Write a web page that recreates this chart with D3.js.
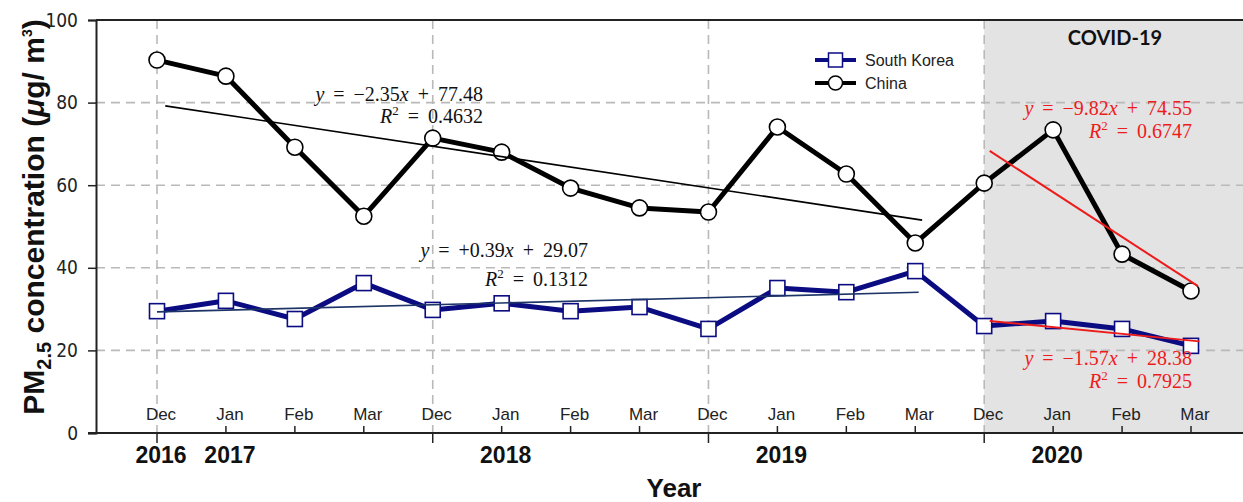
<!DOCTYPE html>
<html>
<head>
<meta charset="utf-8">
<script src="https://cdn.jsdelivr.net/npm/d3@7"></script>
<style>
  body { margin: 0; background: #fff; }
  svg { display: block; }
</style>
</head>
<body>
<svg id="chart" width="1243" height="502"></svg>
<script>
// Monthly winter-spring PM2.5 means, Dec 2016 – Mar 2020
const months = ["Dec","Jan","Feb","Mar","Dec","Jan","Feb","Mar","Dec","Jan","Feb","Mar","Dec","Jan","Feb","Mar"];
const southKorea = [29.5, 32.0, 27.6, 36.3, 29.8, 31.4, 29.5, 30.5, 25.2, 35.1, 34.1, 39.2, 25.9, 27.1, 25.2, 21.1];
const china      = [90.3, 86.4, 69.2, 52.5, 71.4, 68.0, 59.3, 54.5, 53.5, 74.1, 62.7, 46.0, 60.5, 73.4, 43.3, 34.4];
const yearLabels = ["2016", "2017", "2018", "2019", "2020"];
const yearLabelIndex = [0, 1, 5, 9, 13];
const seasonStarts = [0, 4, 8, 12];
const yTicks = [0, 20, 40, 60, 80, 100];
const preCovidRange = [0, 11];
const covidRange = [12, 15];
const koreaPreText = ["y = +0.39x + 29.07", "R² = 0.1312"];
const chinaPreText = ["y = −2.35x + 77.48", "R² = 0.4632"];
const koreaCovidText = ["y = −1.57x + 28.38", "R² = 0.7925"];
const chinaCovidText = ["y = −9.82x + 74.55", "R² = 0.6747"];

const svg = d3.select("#chart");
const W = 1243;
const plotLeft = 96, plotRight = W, plotTop = 20, plotBottom = 433;

const x = d3.scaleLinear().domain([0, 15]).range([157, 1191]);
const y = d3.scaleLinear().domain([0, 100]).range([plotBottom, plotTop]);

const NAVY = "#0b0b82";
const RED = "#ee1b1b";
const GRID = "#b9b9b9";
const SANS = "'Liberation Sans', Arial, sans-serif";

// COVID-19 period shading
svg.append("rect")
  .attr("x", x(covidRange[0])).attr("y", plotTop)
  .attr("width", plotRight - x(covidRange[0])).attr("height", plotBottom - plotTop)
  .attr("fill", "#e3e3e3");

// dashed grid
svg.append("g").selectAll("line").data(yTicks.filter(d => d > 0 && d < 100)).join("line")
  .attr("x1", plotLeft).attr("x2", plotRight)
  .attr("y1", d => y(d)).attr("y2", d => y(d))
  .attr("stroke", GRID).attr("stroke-width", 1.6).attr("stroke-dasharray", "9,6");
svg.append("g").selectAll("line").data(seasonStarts).join("line")
  .attr("x1", d => x(d)).attr("x2", d => x(d))
  .attr("y1", plotTop).attr("y2", plotBottom)
  .attr("stroke", GRID).attr("stroke-width", 1.6).attr("stroke-dasharray", "9,6");

// frame: top border, left axis
svg.append("line").attr("x1", plotLeft).attr("x2", plotRight)
  .attr("y1", plotTop).attr("y2", plotTop).attr("stroke", "#222").attr("stroke-width", 2);

const yAxis = svg.append("g")
  .attr("transform", `translate(${plotLeft},0)`)
  .call(d3.axisLeft(y).tickValues(yTicks).tickSize(8).tickPadding(10).tickFormat(d3.format("d")));
yAxis.select(".domain").attr("stroke", "#222").attr("stroke-width", 2);
yAxis.selectAll(".tick line").attr("stroke", "#222").attr("stroke-width", 1.5);
yAxis.selectAll(".tick text")
  .attr("font-family", "'DejaVu Sans Condensed', 'Liberation Sans', sans-serif")
  .attr("font-size", 19).attr("fill", "#222");

// bottom axis: inward month ticks, outward season ticks
svg.append("line").attr("x1", 88).attr("x2", plotRight)
  .attr("y1", plotBottom).attr("y2", plotBottom).attr("stroke", "#222").attr("stroke-width", 2);
svg.append("g").selectAll("line").data(d3.range(months.length)).join("line")
  .attr("x1", d => x(d)).attr("x2", d => x(d))
  .attr("y1", plotBottom)
  .attr("y2", d => seasonStarts.includes(d) ? plotBottom + 10 : plotBottom - 7)
  .attr("stroke", "#222").attr("stroke-width", 1.5);
svg.append("g").selectAll("text").data(months).join("text")
  .attr("x", (d, i) => x(i) + 4).attr("y", 420)
  .attr("text-anchor", "middle")
  .attr("font-family", SANS).attr("font-size", 17)
  .attr("fill", "#222").text(d => d);
svg.append("g").selectAll("text").data(yearLabels).join("text")
  .attr("x", (d, i) => x(yearLabelIndex[i]) + 4).attr("y", 463)
  .attr("text-anchor", "middle")
  .attr("font-family", SANS).attr("font-size", 23)
  .attr("font-weight", "bold").attr("fill", "#111").text(d => d);

// axis titles
svg.append("text").attr("x", 674).attr("y", 497).attr("text-anchor", "middle")
  .attr("font-family", SANS).attr("font-size", 26)
  .attr("font-weight", "bold").attr("fill", "#111").text("Year");

const yTitle = svg.append("text")
  .attr("transform", "translate(44,217) rotate(-90)")
  .attr("text-anchor", "middle")
  .attr("font-family", SANS).attr("font-size", 30)
  .attr("font-weight", "bold").attr("fill", "#111");
yTitle.append("tspan").text("PM");
yTitle.append("tspan").attr("font-size", 20).attr("dy", 7).text("2.5");
yTitle.append("tspan").attr("dy", -7).text(" concentration (");
yTitle.append("tspan").attr("font-style", "italic").text("μ");
yTitle.append("tspan").text("g/ m");
yTitle.append("tspan").attr("font-size", 14).attr("dy", -12).text("3");
yTitle.append("tspan").attr("dy", 12).text(")");

// data lines
const line = d3.line().x((d, i) => x(i)).y(d => y(d));
svg.append("path").datum(china).attr("d", line)
  .attr("fill", "none").attr("stroke", "#000").attr("stroke-width", 5).attr("stroke-linejoin", "round");
svg.append("path").datum(southKorea).attr("d", line)
  .attr("fill", "none").attr("stroke", NAVY).attr("stroke-width", 5).attr("stroke-linejoin", "round");

// least-squares fits over each period
function fit(values, range) {
  const idx = d3.range(range[0], range[1] + 1);
  const mx = d3.mean(idx), my = d3.mean(idx, i => values[i]);
  const sxy = d3.sum(idx, i => (i - mx) * (values[i] - my));
  const sxx = d3.sum(idx, i => (i - mx) * (i - mx));
  const slope = sxy / sxx;
  return { slope, intercept: my - slope * mx };
}
function drawFit(values, range, from, to, color, width) {
  const f = fit(values, range);
  svg.append("line")
    .attr("x1", x(from)).attr("y1", y(f.intercept + f.slope * from))
    .attr("x2", x(to)).attr("y2", y(f.intercept + f.slope * to))
    .attr("stroke", color).attr("stroke-width", width);
}

// markers
svg.append("g").selectAll("circle").data(china).join("circle")
  .attr("cx", (d, i) => x(i)).attr("cy", d => y(d)).attr("r", 8)
  .attr("fill", "#fff").attr("stroke", "#000").attr("stroke-width", 1.6);
svg.append("g").selectAll("rect").data(southKorea).join("rect")
  .attr("x", (d, i) => x(i) - 7.5).attr("y", d => y(d) - 7.5)
  .attr("width", 15).attr("height", 15)
  .attr("fill", "#fff").attr("stroke", NAVY).attr("stroke-width", 1.6);

drawFit(china, preCovidRange, 0.12, 11.1, "#000", 1.6);
drawFit(southKorea, preCovidRange, 0, 11.05, "#1d3466", 1.6);
drawFit(china, covidRange, 12.08, 15.1, RED, 2);
drawFit(southKorea, covidRange, 12.08, 15.12, RED, 2);

// regression equations: italic variables, raised exponent
function equation(lines, xEnd, baselines, color) {
  lines.forEach((str, k) => {
    const t = svg.append("text")
      .attr("x", xEnd).attr("y", baselines[k]).attr("text-anchor", "end")
      .attr("font-family", "'Liberation Serif', 'DejaVu Serif', serif").attr("font-size", 20)
      .attr("word-spacing", 4).attr("fill", color);
    let lower = 0;
    str.split(/([xyR]|²)/).filter(s => s.length).forEach(s => {
      if (s === "²") {
        t.append("tspan").attr("font-size", 13).attr("dy", -8).text("2");
        lower = 8;
        return;
      }
      const ts = t.append("tspan").text(s);
      if (lower) { ts.attr("dy", lower); lower = 0; }
      if (/^[xyR]$/.test(s)) ts.attr("font-style", "italic");
    });
  });
}
equation(chinaPreText, 483, [101, 123], "#111");
equation(koreaPreText, 588, [257, 286], "#111");
equation(chinaCovidText, 1192, [115, 138], RED);
equation(koreaCovidText, 1192, [365, 388], RED);

// COVID-19 period title
svg.append("text").attr("x", 1115).attr("y", 45).attr("text-anchor", "middle")
  .attr("font-family", "Lato, 'Open Sans', sans-serif").attr("font-size", 20)
  .attr("font-weight", "bold").attr("fill", "#111").text("COVID-19");

// legend
const legend = svg.append("g").attr("transform", "translate(815,0)");
const legendItems = [
  { name: "South Korea", color: NAVY, shape: "square", yPos: 60 },
  { name: "China", color: "#000", shape: "circle", yPos: 83 }
];
legendItems.forEach(it => {
  legend.append("line").attr("x1", 0).attr("x2", 41).attr("y1", it.yPos).attr("y2", it.yPos)
    .attr("stroke", it.color).attr("stroke-width", 4);
  if (it.shape === "square") {
    legend.append("rect").attr("x", 20.5 - 7).attr("y", it.yPos - 7).attr("width", 14).attr("height", 14)
      .attr("fill", "#fff").attr("stroke", it.color).attr("stroke-width", 1.5);
  } else {
    legend.append("circle").attr("cx", 20.5).attr("cy", it.yPos).attr("r", 7)
      .attr("fill", "#fff").attr("stroke", it.color).attr("stroke-width", 1.5);
  }
  legend.append("text").attr("x", 50).attr("y", it.yPos + 6)
    .attr("font-family", SANS).attr("font-size", 16)
    .attr("fill", "#222").text(it.name);
});
</script>
</body>
</html>
